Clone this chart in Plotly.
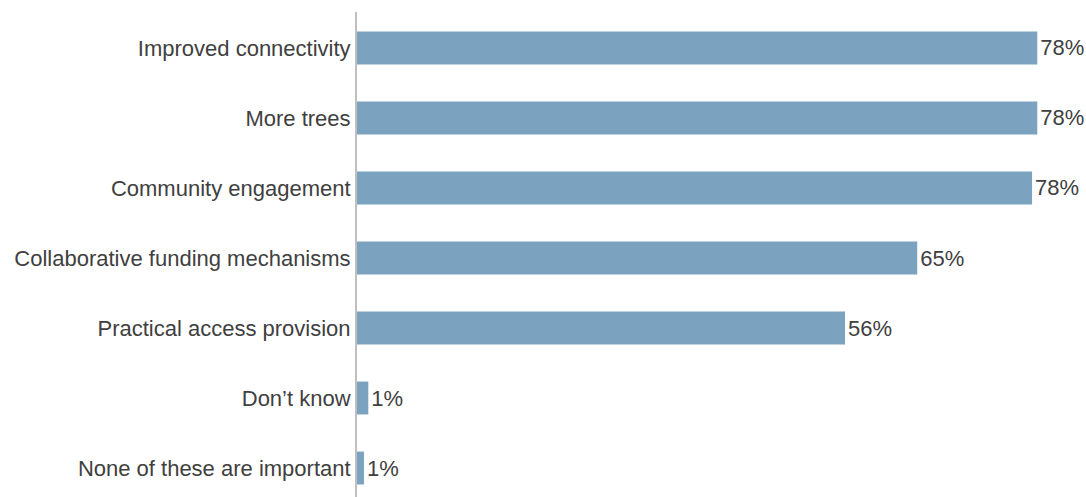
import plotly.graph_objects as go

categories = [
    "Improved connectivity",
    "More trees",
    "Community engagement",
    "Collaborative funding mechanisms",
    "Practical access provision",
    "Don’t know",
    "None of these are important",
]
values = [78.2, 78.2, 77.6, 64.4, 56.1, 1.3, 0.8]
labels = ["78%", "78%", "78%", "65%", "56%", "1%", "1%"]

FONT = "Liberation Sans, Arial, sans-serif"

fig = go.Figure(
    go.Bar(
        x=values,
        y=categories,
        orientation="h",
        marker=dict(color="#7BA3C0", line=dict(width=0)),
        width=0.47,
        text=labels,
        textposition="outside",
        texttemplate="%{text}",
        textfont=dict(family=FONT, size=22, color="#404040"),
        cliponaxis=False,
        hoverinfo="skip",
    )
)

fig.update_layout(
    width=1086,
    height=497,
    margin=dict(l=357, r=0, t=12, b=0, autoexpand=False),
    paper_bgcolor="white",
    plot_bgcolor="white",
    showlegend=False,
    font=dict(family=FONT, size=22, color="#404040"),
    xaxis=dict(
        range=[0, 83.8],
        visible=False,
        showgrid=False,
        zeroline=False,
    ),
    yaxis=dict(
        categoryorder="array",
        categoryarray=categories,
        range=[6.414, -0.514],
        showgrid=False,
        zeroline=False,
        showline=True,
        linecolor="#BFBFBF",
        linewidth=2,
        ticks="",
        ticklabelstandoff=0,
        tickfont=dict(family=FONT, size=22, color="#404040"),
    ),
)

fig.write_html(
    "out.html",
    config={"displayModeBar": False},
    post_script="document.body.style.margin='0';document.body.style.overflow='hidden';",
)
